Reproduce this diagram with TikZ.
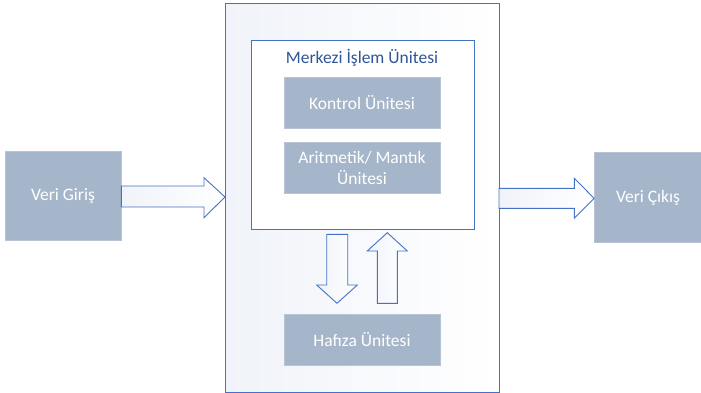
\documentclass[tikz,border=0pt]{standalone}
\usepackage{fontspec}
\setmainfont{Carlito}
\definecolor{boxfill}{HTML}{A6B6CA}
\definecolor{boxline}{HTML}{B8C4D4}
\definecolor{frame}{HTML}{4472C4}
\definecolor{titleblue}{HTML}{2F5597}
\definecolor{faint}{HTML}{F0F3F9}
\begin{document}
\begin{tikzpicture}[x=1pt,y=-1pt,
  unit/.style={draw=boxline,line width=0.8pt,fill=boxfill,text=white,font=\fontsize{17.5}{21.5}\selectfont,align=center,inner sep=0pt},
  frm/.style={draw=frame,line width=0.9pt},
  blockarrow/.style={draw=frame,line width=0.9pt,line join=miter,left color=faint,right color=white}]
\useasboundingbox (0,0) rectangle (701,393);
% outer box
\path[frm,left color=faint,right color=white] (225,3.5) rectangle (499,392);
% inner CPU box
\path[frm,fill=white] (251,40) rectangle (474,229);
\node[text=titleblue,font=\fontsize{17.5}{19}\selectfont] (cpu) at (362,57.5) {Merkezi İşlem Ünitesi};
% units
\node[unit,minimum width=156pt,minimum height=51pt] (ku) at (362,102.8) {Kontrol Ünitesi};
\node[unit,minimum width=156pt,minimum height=51pt] (alu) at (362,167.8) {Aritmetik/ Mantık\\Ünitesi};
\node[unit,minimum width=156pt,minimum height=51.5pt] (mem) at (362,340) {Hafıza Ünitesi};
\node[unit,minimum width=116pt,minimum height=89pt] (in) at (63,195.5) {Veri Giriş};
\node[unit,minimum width=107pt,minimum height=89.5pt] (out) at (648,197.5) {Veri Çıkış};
% block arrows
\draw[blockarrow] (in.east |- 0,186) -- (204,186) -- (204,177.7) -- (225,197) -- (204,217.7) -- (204,207) -- (in.east |- 0,207) -- cycle;
\draw[blockarrow] (499,188.3) -- (574.3,188.3) -- (574.3,178.3) -- (out.west |- 0,198.3) -- (574.3,218.3) -- (574.3,208.3) -- (499,208.3) -- cycle;
\draw[blockarrow] (326.7,234.3) -- (347.7,234.3) -- (347.7,285) -- (357.3,285) -- (337,303.3) -- (316.7,285) -- (326.7,285) -- cycle;
\draw[blockarrow] (377.3,303.3) -- (397.3,303.3) -- (397.3,251) -- (407.3,251) -- (387.3,232.7) -- (367.3,251) -- (377.3,251) -- cycle;
\end{tikzpicture}
\end{document}
